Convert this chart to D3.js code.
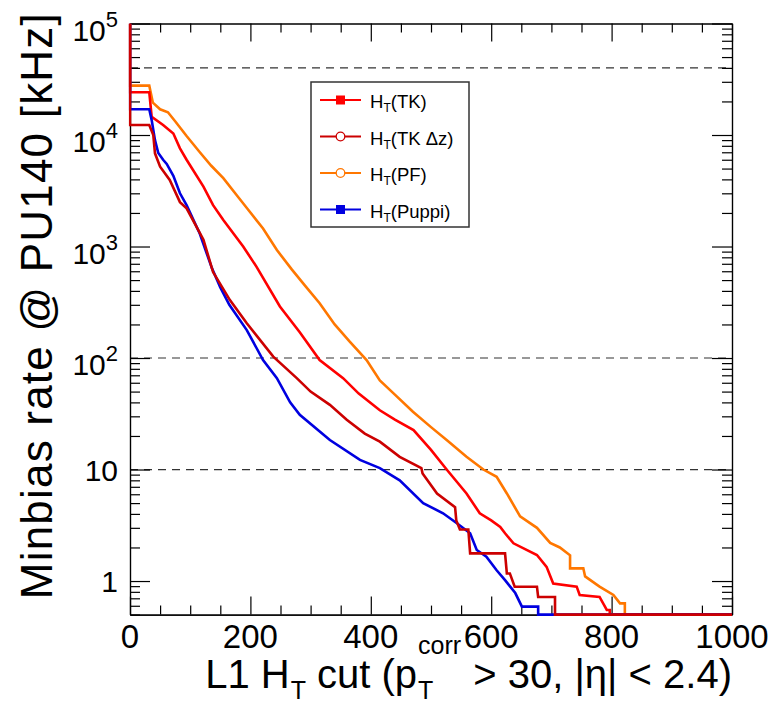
<!DOCTYPE html>
<html><head><meta charset="utf-8">
<script src="https://cdn.jsdelivr.net/npm/d3@7"></script>
<style>
body{margin:0;background:#fff}
text{font-family:"Liberation Sans",Arial,Helvetica,sans-serif;fill:#000}
</style>
</head><body>
<svg id="c" width="769" height="704"></svg>
<script>
// ---------------- data ----------------
const seriesKeys   = ["PF", "TK", "Puppi", "TKdz"];   // draw order
const legendKeys   = ["TK", "TKdz", "PF", "Puppi"];   // legend order
const legendLabels = ["(TK)", "(TK \u0394z)", "(PF)", "(Puppi)"];
const seriesColors = {TK: "#ff0000", TKdz: "#cc0000", PF: "#ff7700", Puppi: "#0000e0"};
const seriesMarkers = {TK: "square", TKdz: "circle", PF: "circle", Puppi: "square"};

const htPF   = [0, 0, 32, 38, 50, 63, 75, 94, 116, 135, 155, 177, 199, 221, 244, 269, 290, 315, 340, 365, 393, 415, 440, 470, 500, 526, 559, 587, 609, 626, 648, 676, 698, 714, 731, 731, 753, 756, 780, 803, 814, 822, 822, 1000];
const ratePF = [1e5, 27700, 27700, 19500, 17000, 16000, 13300, 9800, 7000, 5300, 4100, 2900, 2050, 1450, 930, 620, 450, 310, 200, 140, 96, 63, 47, 33, 24, 18.4, 13, 10, 8.6, 6.1, 3.8, 3.0, 2.2, 2.0, 1.7, 1.3, 1.3, 1.1, 0.89, 0.75, 0.63, 0.63, 0, 0];

const htTK   = [0, 0, 32, 36, 55, 72, 83, 94, 122, 138, 155, 188, 210, 249, 282, 315, 354, 380, 415, 440, 471, 500, 526, 559, 581, 600, 615, 623, 637, 676, 692, 703, 742, 747, 780, 792, 797, 797, 1000];
const rateTK = [1e5, 24200, 24200, 14600, 12300, 10300, 7600, 6000, 3440, 2350, 1730, 1000, 660, 290, 170, 96, 66, 48, 34, 28, 22.6, 15, 10, 6.1, 4.05, 3.5, 3.06, 2.68, 2.18, 1.71, 1.34, 0.95, 0.89, 0.75, 0.72, 0.55, 0.55, 0, 0];

const htPuppi   = [0, 0, 32, 36, 41.5, 47, 55, 61, 72, 83, 94, 116, 136, 150, 165, 194, 221, 244, 266, 282, 332, 382, 415, 448, 487, 520, 543, 565, 576, 592, 609, 623, 640, 651, 678, 678, 1000];
const ratePuppi = [1e5, 17000, 17000, 13600, 9000, 6900, 6000, 5500, 4300, 3000, 2350, 1300, 640, 430, 300, 178, 96, 66, 40, 31, 18.4, 12.2, 10.3, 8.0, 5.0, 4.05, 3.3, 2.68, 1.9, 1.65, 1.25, 1.02, 0.78, 0.59, 0.59, 0, 0];

const htTKdz   = [0, 0, 32, 38.7, 41.5, 50, 66, 83, 94, 122, 138, 166, 194, 238, 277, 300, 332, 360, 390, 415, 448, 484, 486, 510, 540, 542, 548, 562, 565, 623, 626, 631, 639, 676, 678, 706, 706, 1000];
const rateTKdz = [1e5, 12300, 12300, 10000, 6850, 5200, 3950, 2500, 2200, 1150, 590, 331, 205, 103, 66, 50, 38, 28, 21, 17.8, 13, 10.3, 9.2, 6.1, 4.6, 3.5, 2.9, 2.9, 1.77, 1.77, 1.17, 1.17, 0.89, 0.89, 0.72, 0.72, 0, 0];

const dashedLevels = [40000, 100, 10];
const xTickLabels = [0, 200, 400, 600, 800, 1000];
const yTickValues = [1, 10, 100, 1000, 10000, 100000];
const yTickBase   = ["1", "10", "10", "10", "10", "10"];
const yTickExp    = ["", "", "2", "3", "4", "5"];
const xTitleParts = [
  {t: "L1 H"}, {sub: "T"}, {t: " cut (p"}, {sub: "T", sup: "corr"}, {t: " > 30, |\u03b7| < 2.4)"}
];
const yTitle = "Minbias rate @ PU140 [kHz]";

const series = {
  PF: htPF.map((h, i) => [h, ratePF[i]]),
  TK: htTK.map((h, i) => [h, rateTK[i]]),
  Puppi: htPuppi.map((h, i) => [h, ratePuppi[i]]),
  TKdz: htTKdz.map((h, i) => [h, rateTKdz[i]])
};

// ---------------- layout ----------------
const L = 130, R = 732, T = 23.5, B = 614.6;
const yMin = 0.5, yMax = 1e5;
const svg = d3.select("#c");
const x = d3.scaleLinear().domain([0, 1000]).range([L, R]);
const y = d3.scaleLog().domain([yMin, yMax]).range([B, T]);

svg.append("defs").append("clipPath").attr("id", "clip")
  .append("rect").attr("x", L - 1.3).attr("y", T).attr("width", R - L + 1.3).attr("height", B - T + 1.3);

// dashed reference lines
svg.append("g").selectAll("line").data(dashedLevels).join("line")
  .attr("x1", L).attr("x2", R).attr("y1", d => y(d)).attr("y2", d => y(d))
  .attr("stroke", "#333").attr("stroke-width", 1.2).attr("stroke-dasharray", "8,6");

// axes (ticks inward on all four sides)
const xMinor = x.ticks(20).filter(v => !xTickLabels.includes(v));
const yAll = y.ticks();
const yMinor = yAll.filter(v => !yTickValues.includes(v));
function styleAxis(g) {
  g.selectAll("path.domain").attr("stroke", "#000").attr("stroke-width", 1.2);
  g.selectAll(".tick line").attr("stroke", "#000").attr("stroke-width", 1.2);
  g.selectAll(".tick text").remove();
}
svg.append("g").attr("transform", `translate(0,${B})`)
  .call(d3.axisBottom(x).tickValues(xTickLabels).tickSize(-18).tickSizeOuter(0).tickFormat("")).call(styleAxis);
svg.append("g").attr("transform", `translate(0,${B})`)
  .call(d3.axisBottom(x).tickValues(xMinor).tickSize(-9).tickSizeOuter(0).tickFormat("")).call(styleAxis);
svg.append("g").attr("transform", `translate(0,${T})`)
  .call(d3.axisTop(x).tickValues(xTickLabels).tickSize(-18).tickSizeOuter(0).tickFormat("")).call(styleAxis);
svg.append("g").attr("transform", `translate(0,${T})`)
  .call(d3.axisTop(x).tickValues(xMinor).tickSize(-9).tickSizeOuter(0).tickFormat("")).call(styleAxis);
svg.append("g").attr("transform", `translate(${L},0)`)
  .call(d3.axisLeft(y).tickValues(yTickValues).tickSize(-20).tickSizeOuter(0).tickFormat("")).call(styleAxis);
svg.append("g").attr("transform", `translate(${L},0)`)
  .call(d3.axisLeft(y).tickValues(yMinor).tickSize(-10).tickSizeOuter(0).tickFormat("")).call(styleAxis);
svg.append("g").attr("transform", `translate(${R},0)`)
  .call(d3.axisRight(y).tickValues(yTickValues).tickSize(-20).tickSizeOuter(0).tickFormat("")).call(styleAxis);
svg.append("g").attr("transform", `translate(${R},0)`)
  .call(d3.axisRight(y).tickValues(yMinor).tickSize(-10).tickSizeOuter(0).tickFormat("")).call(styleAxis);

// curves (drawn over the frame, as in the original)
const line = d3.line().x(d => x(d[0])).y(d => y(Math.max(d[1], yMin)));
svg.append("g").attr("clip-path", "url(#clip)").selectAll("path").data(seriesKeys).join("path")
  .attr("d", k => line(series[k]))
  .attr("fill", "none").attr("stroke", k => seriesColors[k])
  .attr("stroke-width", 2.6).attr("stroke-linejoin", "miter");

// x tick labels
svg.append("g").selectAll("text").data(xTickLabels).join("text")
  .attr("x", d => x(d)).attr("y", 648).attr("text-anchor", "middle")
  .attr("font-size", 33).text(d => d);

// y tick labels with superscripts
const yl = svg.append("g");
yTickValues.forEach((v, i) => {
  const ty = y(v);
  if (yTickExp[i]) {
    const sup = yl.append("text").attr("x", 118).attr("y", ty + 3).attr("text-anchor", "end")
      .attr("font-size", 22).text(yTickExp[i]);
    const w = sup.node().getComputedTextLength();
    yl.append("text").attr("x", 118 - w).attr("y", ty + 17).attr("text-anchor", "end")
      .attr("font-size", 30).text(yTickBase[i]);
  } else {
    yl.append("text").attr("x", 118).attr("y", ty + 11).attr("text-anchor", "end")
      .attr("font-size", 30).text(yTickBase[i]);
  }
});

// y title (fit to the span used in the original)
const yt = svg.append("text").attr("transform", "translate(52,12) rotate(-90)")
  .attr("text-anchor", "end").attr("font-size", 44).text(yTitle);
const ytLen = yt.node().getComputedTextLength();
const ytTarget = 586;
if (ytLen < ytTarget) yt.attr("letter-spacing", ((ytTarget - ytLen) / (yTitle.length - 1)).toFixed(2));

// x title (rich text)
const xt = svg.append("g");
let cx = 0;
const base = 0, fsMain = 40, fsSmall = 25;
xTitleParts.forEach(p => {
  if (p.t !== undefined) {
    const t = xt.append("text").attr("x", cx).attr("y", base).attr("font-size", fsMain)
      .attr("xml:space", "preserve").style("white-space", "pre").text(p.t);
    cx += t.node().getComputedTextLength();
  } else {
    let w = 0;
    if (p.sup) {
      const s = xt.append("text").attr("x", cx + 1).attr("y", base - 34).attr("font-size", fsSmall).text(p.sup);
      w = Math.max(w, s.node().getComputedTextLength() + 2);
    }
    const s2 = xt.append("text").attr("x", cx + 1).attr("y", base + 11).attr("font-size", fsSmall).text(p.sub);
    w = Math.max(w, s2.node().getComputedTextLength() + 1);
    cx += w;
  }
});
xt.attr("transform", `translate(${732 - cx},688)`);

// legend
const lg = svg.append("g");
lg.append("rect").attr("x", 311).attr("y", 82).attr("width", 158).attr("height", 145)
  .attr("fill", "#fff").attr("stroke", "#333").attr("stroke-width", 1.5);
legendKeys.forEach((k, i) => {
  const ey = 100 + i * 36.5;
  const c = seriesColors[k];
  lg.append("line").attr("x1", 320).attr("x2", 361).attr("y1", ey).attr("y2", ey)
    .attr("stroke", c).attr("stroke-width", 2);
  if (seriesMarkers[k] === "square") {
    lg.append("rect").attr("x", 336).attr("y", ey - 4.5).attr("width", 9).attr("height", 9).attr("fill", c);
  } else {
    lg.append("circle").attr("cx", 340.5).attr("cy", ey).attr("r", 4.3)
      .attr("fill", "#fff").attr("stroke", c).attr("stroke-width", 1.3);
  }
  const t = lg.append("text").attr("x", 370).attr("y", ey + 8).attr("font-size", 18.5);
  t.append("tspan").text("H");
  t.append("tspan").attr("font-size", 12).attr("dy", 4).text("T");
  t.append("tspan").attr("dy", -4).text(legendLabels[i]);
});
</script>
</body></html>
